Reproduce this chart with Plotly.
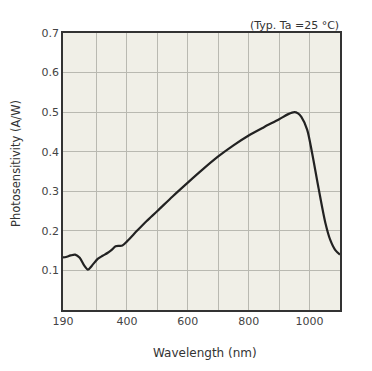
import plotly.graph_objects as go

wavelength = [190, 200, 215, 230, 245, 260, 272, 285, 304, 320, 336, 350, 363, 375, 385, 401,
              433, 465, 500, 550, 600, 650, 700, 750, 800, 850, 900, 930, 950, 962, 973, 992,
              1008, 1030, 1052, 1068, 1084, 1100]
sensitivity = [0.133, 0.134, 0.138, 0.140, 0.132, 0.112, 0.102, 0.112, 0.129, 0.137, 0.144, 0.152,
               0.161, 0.162, 0.163, 0.174, 0.200, 0.225, 0.250, 0.287, 0.322, 0.356, 0.388, 0.416,
               0.441, 0.462, 0.482, 0.495, 0.500, 0.497, 0.488, 0.456, 0.398, 0.306, 0.220, 0.177,
               0.152, 0.140]

x_tickvals = [190, 300, 400, 500, 600, 700, 800, 900, 1000]
x_ticktext = ["190", "", "400", "", "600", "", "800", "", "1000"]
y_tickvals = [0.1, 0.2, 0.3, 0.4, 0.5, 0.6, 0.7]
y_ticktext = ["0.1", "0.2", "0.3", "0.4", "0.5", "0.6", "0.7"]

font = dict(family="DejaVu Sans, Verdana, sans-serif", size=11, color="#444444")

# the page adds an 8px body margin, so figure coords = page coords - 8
OFF = 8
W, H = 372, 371
L, T = 63 - OFF, 33 - OFF
PW, PH = 277, 277
R, B = W - L - PW, H - T - PH

def px(xp):
    return (xp - OFF - L) / PW

def py(yp):
    return (T + PH - (yp - OFF)) / PH

fig = go.Figure()
fig.add_trace(go.Scatter(
    x=wavelength, y=sensitivity, mode="lines",
    line=dict(color="#222222", width=2.2, shape="spline", smoothing=0.8),
    hoverinfo="skip", showlegend=False))

fig.update_layout(
    width=W, height=H,
    margin=dict(l=L, r=R, t=T, b=B, autoexpand=False),
    paper_bgcolor="white", plot_bgcolor="#f0efe7",
    font=font,
    xaxis=dict(range=[190, 1100], tickvals=x_tickvals, ticktext=x_ticktext,
               showgrid=True, gridcolor="#b9b9b1", gridwidth=1,
               showline=True, linecolor="#333333", linewidth=1.5, mirror=True,
               ticks="", zeroline=False, automargin=False),
    yaxis=dict(range=[0, 0.7], tickvals=y_tickvals, ticktext=y_ticktext,
               showgrid=True, gridcolor="#b9b9b1", gridwidth=1,
               showline=True, linecolor="#333333", linewidth=1.5, mirror=True,
               ticks="", zeroline=False, automargin=False),
    annotations=[
        dict(text="(Typ. Ta =25 °C)", xref="paper", yref="paper", x=px(341), y=py(25),
             xanchor="right", yanchor="middle", showarrow=False,
             font=dict(size=11, color="#333333")),
        dict(text="Wavelength (nm)", xref="paper", yref="paper",
             x=px(205), y=py(353),
             xanchor="center", yanchor="middle", showarrow=False,
             font=dict(size=12, color="#333333")),
        dict(text="Photosensitivity (A/W)", xref="paper", yref="paper",
             x=px(16), y=py(164), textangle=-90,
             xanchor="center", yanchor="middle", showarrow=False,
             font=dict(size=11.5, color="#333333")),
    ],
)

fig.write_html("out.html")
